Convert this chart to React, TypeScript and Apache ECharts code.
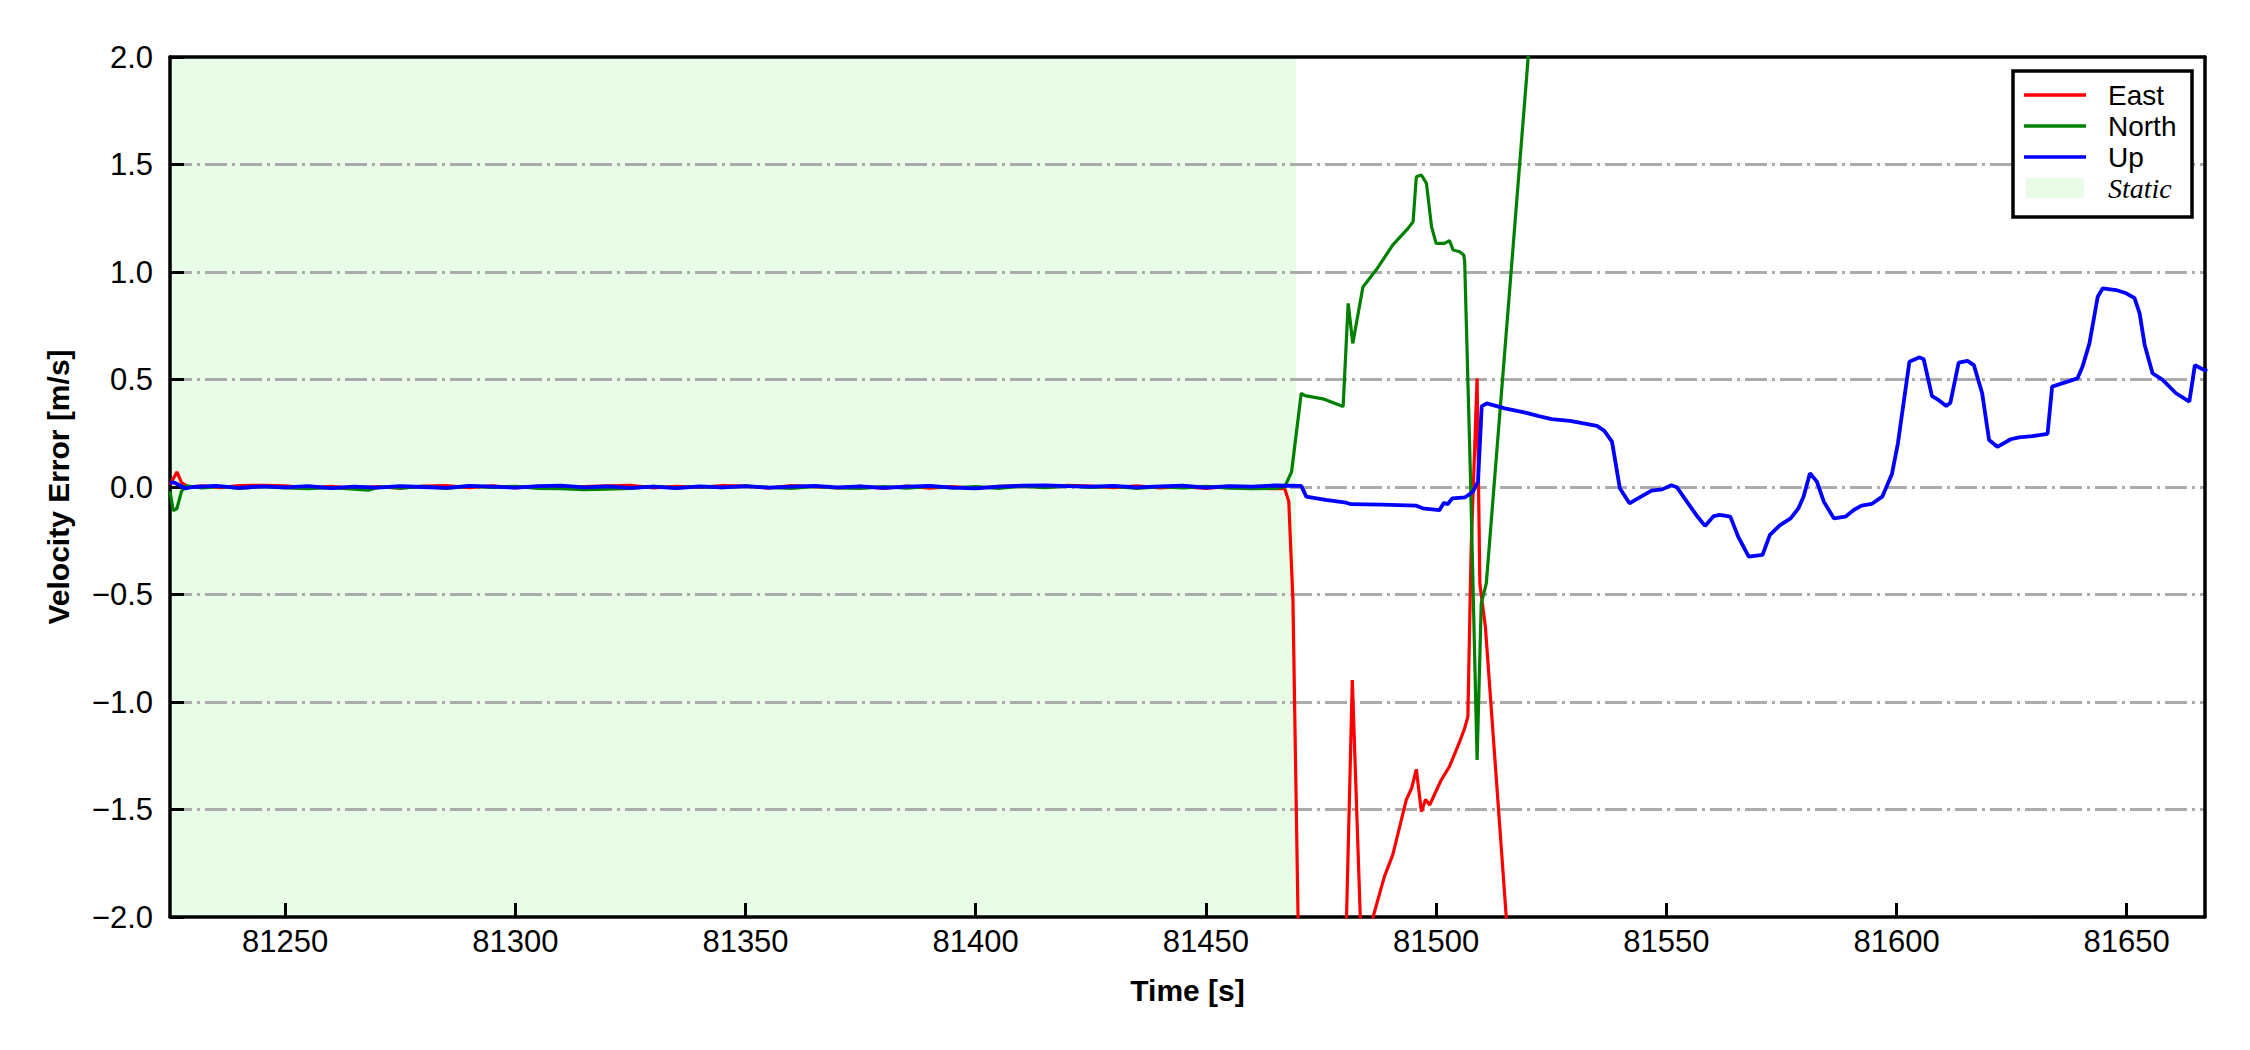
import React, { useEffect, useRef } from "react";
import * as echarts from "echarts";

// ---------- axis / layout constants ----------
const X_MIN = 81225;
const X_MAX = 81667;
const X_TICKS = [81250, 81300, 81350, 81400, 81450, 81500, 81550, 81600, 81650];
const Y_MIN = -2;
const Y_MAX = 2;
const Y_STEP = 0.5;
const STATIC_START = 81225;
const STATIC_END = 81469.6;
const STATIC_COLOR = "#e8fce8";

const SERIES_NAMES = ["East", "North", "Up"];
const SERIES_COLORS = ["#ff0000", "#008000", "#0000ff"];
const STATIC_NAME = "Static";

// ---------- data: [time (s), velocity error (m/s)] ----------
const EAST: [number, number][] = [
  [81225, 0.01], [81226.5, 0.07], [81227.5, 0.02], [81229, 0.0], [81232, 0.005], [81236, -0.003],
  [81240, 0.006], [81245, 0.008], [81250, 0.005], [81255, -0.004], [81260, 0.003], [81265, -0.006],
  [81270, 0.002], [81275, -0.005], [81280, 0.004], [81285, 0.006], [81290, -0.003], [81295, 0.005],
  [81300, -0.004], [81305, 0.003], [81310, -0.006], [81315, 0.002], [81320, 0.005], [81325, 0.008],
  [81330, -0.004], [81335, 0.003], [81340, -0.002], [81345, 0.006], [81350, 0.004], [81355, -0.005],
  [81360, 0.007], [81365, 0.002], [81370, -0.004], [81375, 0.003], [81380, -0.006], [81385, 0.004],
  [81390, -0.005], [81395, 0.002], [81400, -0.006], [81405, 0.003], [81410, 0.006], [81415, -0.002],
  [81420, 0.008], [81425, 0.004], [81430, -0.003], [81435, 0.005], [81440, -0.004], [81445, 0.002],
  [81450, -0.006], [81455, 0.003], [81460, -0.004], [81465, -0.008], [81467.1, -0.006],
  [81468.0, -0.068], [81468.9, -0.526], [81470.0, -1.99], [81470.5, -2.3], [81480.2, -2.3],
  [81481.8, -0.898], [81484.0, -2.3], [81485.5, -2.3], [81486.3, -2.0], [81488.8, -1.81],
  [81490.6, -1.71], [81493.5, -1.456], [81494.7, -1.4], [81495.7, -1.313], [81496.8, -1.51],
  [81497.7, -1.453], [81498.6, -1.479], [81501.1, -1.363], [81502.9, -1.3], [81505.1, -1.185],
  [81506.2, -1.122], [81506.9, -1.068], [81507.6, -0.293], [81508.9, 0.505], [81509.5, -0.45],
  [81510.7, -0.65], [81515.2, -1.99], [81516, -2.3],
];

const NORTH: [number, number][] = [
  [81225, -0.02], [81225.7, -0.11], [81226.5, -0.1], [81227.5, -0.02], [81228.5, 0.005], [81232, -0.004],
  [81236, 0.003], [81240, -0.006], [81245, 0.002], [81250, -0.004], [81255, -0.008], [81260, -0.003],
  [81265, -0.01], [81268, -0.015], [81271, 0.002], [81275, -0.005], [81280, 0.003], [81285, -0.006],
  [81290, 0.004], [81295, -0.002], [81300, 0.003], [81305, -0.006], [81310, -0.008], [81315, -0.012],
  [81320, -0.01], [81325, -0.006], [81330, 0.003], [81335, -0.004], [81340, 0.002], [81345, -0.003],
  [81350, 0.004], [81355, -0.002], [81360, -0.006], [81365, 0.003], [81370, -0.004], [81375, -0.007],
  [81380, 0.002], [81385, -0.005], [81390, 0.003], [81395, -0.004], [81400, 0.002], [81405, -0.006],
  [81410, 0.004], [81415, -0.003], [81420, 0.005], [81425, -0.002], [81430, 0.003], [81435, -0.006],
  [81440, 0.002], [81445, -0.004], [81450, 0.003], [81455, -0.005], [81460, -0.008], [81465, -0.006],
  [81467.1, 0.0], [81468.6, 0.07], [81470.7, 0.436], [81471.5, 0.425], [81475.4, 0.41],
  [81479.8, 0.374], [81480.9, 0.854], [81481.9, 0.668], [81484.1, 0.93], [81487.0, 1.01],
  [81490.6, 1.126], [81493.9, 1.203], [81495.0, 1.234], [81495.7, 1.443], [81496.8, 1.451],
  [81497.9, 1.412], [81499.0, 1.211], [81500.0, 1.133], [81501.8, 1.133], [81502.9, 1.146],
  [81503.7, 1.102], [81505.1, 1.094], [81506.0, 1.079], [81506.2, 1.05], [81507.4, 0.1],
  [81508.9, -1.27], [81509.8, -0.541], [81510.9, -0.448], [81520.0, 2.0], [81522, 2.55],
];

const UP: [number, number][] = [
  [81225, 0.02], [81226, 0.02], [81228.3, -0.006], [81230, 0.0], [81235, 0.005], [81240, -0.004],
  [81245, 0.003], [81250, -0.002], [81255, 0.004], [81260, -0.005], [81265, 0.002], [81270, -0.003],
  [81275, 0.004], [81280, 0.0], [81285, -0.004], [81290, 0.005], [81295, 0.002], [81300, -0.003],
  [81305, 0.004], [81310, 0.006], [81315, -0.002], [81320, 0.003], [81325, -0.004], [81330, 0.002],
  [81335, -0.005], [81340, 0.003], [81345, -0.002], [81350, 0.004], [81355, -0.003], [81360, 0.002],
  [81365, 0.005], [81370, -0.002], [81375, 0.003], [81380, -0.004], [81385, 0.002], [81390, 0.005],
  [81395, -0.003], [81400, -0.006], [81405, 0.002], [81410, 0.006], [81415, 0.008], [81420, 0.004],
  [81425, 0.002], [81430, 0.005], [81435, -0.002], [81440, 0.003], [81445, 0.006], [81450, -0.003],
  [81455, 0.004], [81460, 0.002], [81465, 0.007], [81470.7, 0.005], [81471.8, -0.045],
  [81476, -0.06], [81480.5, -0.073], [81481.5, -0.08], [81488, -0.082], [81495.7, -0.087],
  [81497.1, -0.099], [81500.7, -0.108], [81501.7, -0.073], [81502.5, -0.08], [81503.5, -0.053],
  [81506.3, -0.048], [81508.0, -0.022], [81509.1, 0.025], [81509.9, 0.375], [81511.0, 0.389],
  [81514.9, 0.366], [81519.4, 0.346], [81522.3, 0.33], [81525.1, 0.316], [81529.1, 0.308],
  [81532.0, 0.296], [81534.9, 0.284], [81536.5, 0.262], [81538.2, 0.211], [81539.9, -0.006],
  [81542.0, -0.076], [81544.5, -0.045], [81546.8, -0.017], [81549.1, -0.011], [81551.1, 0.008],
  [81552.3, -0.001], [81554.2, -0.06], [81556.5, -0.13], [81558.4, -0.181], [81560.3, -0.135],
  [81561.6, -0.13], [81563.9, -0.138], [81565.6, -0.231], [81567.9, -0.324], [81570.9, -0.316],
  [81572.5, -0.223], [81574.7, -0.177], [81577.0, -0.146], [81578.7, -0.099], [81579.8, -0.045],
  [81581.2, 0.064], [81582.7, 0.025], [81584.2, -0.068], [81586.4, -0.146], [81588.9, -0.138],
  [81590.7, -0.107], [81592.4, -0.087], [81594.6, -0.079], [81596.9, -0.045], [81599.0, 0.06],
  [81600.3, 0.203], [81602.8, 0.583], [81605.0, 0.603], [81605.9, 0.594], [81607.7, 0.423],
  [81608.9, 0.408], [81610.8, 0.377], [81611.7, 0.392], [81613.5, 0.578], [81615.4, 0.587],
  [81616.8, 0.567], [81618.6, 0.436], [81620.1, 0.219], [81621.9, 0.187], [81624.8, 0.222],
  [81626.6, 0.231], [81629.5, 0.237], [81632.8, 0.247], [81633.8, 0.467], [81639.3, 0.505],
  [81640.4, 0.56], [81641.9, 0.668], [81643.7, 0.885], [81644.8, 0.924], [81647.7, 0.916],
  [81649.9, 0.901], [81651.7, 0.878], [81652.8, 0.808], [81653.9, 0.66], [81655.6, 0.529],
  [81657.8, 0.498], [81660.7, 0.436], [81663.6, 0.397], [81664.8, 0.567], [81666.8, 0.544],
  [81667.5, 0.54],
];

const SERIES_DATA = [EAST, NORTH, UP];
const SERIES_WIDTHS = [3.2, 3.2, 3.8];

const FONT = "'Liberation Sans', Arial, Helvetica, sans-serif";
const SERIF = "'Liberation Serif', 'Times New Roman', serif";

const fmtY = (v: number) => (v < 0 ? "\u2212" : "") + Math.abs(v).toFixed(1);

export default function App() {
  const ref = useRef<HTMLDivElement>(null);

  useEffect(() => {
    if (!ref.current) return;
    const chart = echarts.init(ref.current, null, { renderer: "svg" });
    const frameLine = { color: "#000", width: 3.5 };

    // legend box (drawn with graphic elements)
    const LX = 2013, LY = 71, LW = 179, LH = 146;
    const rowY = [95, 126, 157, 188];
    const legendEls: any[] = [
      {
        type: "rect",
        z: 100,
        shape: { x: LX, y: LY, width: LW, height: LH },
        style: { fill: "#ffffff", stroke: "#000", lineWidth: 3.5 },
      },
    ];
    SERIES_NAMES.forEach((name, i) => {
      legendEls.push({
        type: "line",
        z: 101,
        shape: { x1: 2024, y1: rowY[i], x2: 2086, y2: rowY[i] },
        style: { stroke: SERIES_COLORS[i], lineWidth: 3.5 },
      });
      legendEls.push({
        type: "text",
        z: 101,
        x: 2108,
        y: rowY[i],
        style: {
          text: name,
          fill: "#000",
          fontSize: 28,
          fontFamily: FONT,
          verticalAlign: "middle",
          align: "left",
        },
      });
    });
    legendEls.push({
      type: "rect",
      z: 101,
      shape: { x: 2026, y: rowY[3] - 10, width: 58, height: 20 },
      style: { fill: STATIC_COLOR },
    });
    legendEls.push({
      type: "text",
      z: 101,
      x: 2108,
      y: rowY[3],
      style: {
        text: STATIC_NAME,
        fill: "#000",
        fontSize: 28,
        fontFamily: SERIF,
        fontStyle: "italic",
        verticalAlign: "middle",
        align: "left",
      },
    });

    const lineSeries = SERIES_NAMES.map((name, i) => ({
      name,
      type: "line",
      data: SERIES_DATA[i],
      symbol: "none",
      showSymbol: false,
      z: 2,
      clip: true,
      itemStyle: { color: SERIES_COLORS[i] },
      lineStyle: { color: SERIES_COLORS[i], width: SERIES_WIDTHS[i] },
    }));

    chart.setOption({
      animation: false,
      backgroundColor: "#ffffff",
      textStyle: { fontFamily: FONT, color: "#000" },
      grid: { left: 170, right: 45, top: 57, bottom: 133, outerBoundsMode: "none" },
      legend: { show: false },
      graphic: legendEls,
      xAxis: [
        {
          type: "value",
          min: X_MIN,
          max: X_MAX,
          position: "bottom",
          z: 1.5,
          name: "Time [s]",
          nameLocation: "middle",
          nameGap: 58,
          nameTextStyle: { fontFamily: FONT, fontSize: 30, fontWeight: "bold", color: "#000" },
          axisLine: { show: true, onZero: false, lineStyle: frameLine },
          axisTick: {
            show: true,
            inside: true,
            length: 14,
            customValues: X_TICKS,
            lineStyle: { color: "#000", width: 3 },
          },
          axisLabel: {
            show: true,
            customValues: X_TICKS,
            margin: 9,
            fontSize: 31,
            fontFamily: FONT,
            color: "#000",
            formatter: (v: number) => String(v),
          },
          splitLine: { show: false },
        },
        {
          type: "value",
          min: X_MIN,
          max: X_MAX,
          position: "top",
          z: 1.5,
          axisLine: { show: true, onZero: false, lineStyle: frameLine },
          axisTick: { show: false },
          axisLabel: { show: false },
          splitLine: { show: false },
        },
      ],
      yAxis: [
        {
          type: "value",
          min: Y_MIN,
          max: Y_MAX,
          interval: Y_STEP,
          position: "left",
          z: 1.5,
          name: "Velocity Error [m/s]",
          nameLocation: "middle",
          nameGap: 97,
          nameTextStyle: { fontFamily: FONT, fontSize: 30, fontWeight: "bold", color: "#000" },
          axisLine: { show: true, onZero: false, lineStyle: frameLine },
          axisTick: { show: true, inside: true, length: 14, lineStyle: { color: "#000", width: 3 } },
          axisLabel: { show: true, margin: 17, fontSize: 31, fontFamily: FONT, color: "#000", formatter: fmtY },
          splitLine: {
            show: true,
            showMinLine: false,
            showMaxLine: false,
            lineStyle: { color: "#ababab", width: 3, type: [22, 5, 3, 5] },
          },
        },
        {
          type: "value",
          min: Y_MIN,
          max: Y_MAX,
          interval: Y_STEP,
          position: "right",
          z: 1.5,
          axisLine: { show: true, onZero: false, lineStyle: frameLine },
          axisTick: { show: false },
          axisLabel: { show: false },
          splitLine: { show: false },
        },
      ],
      series: [
        {
          name: STATIC_NAME,
          type: "line",
          data: [],
          z: 0,
          symbol: "none",
          itemStyle: { color: STATIC_COLOR },
          lineStyle: { color: STATIC_COLOR },
          markArea: {
            z: 0,
            silent: true,
            itemStyle: { color: STATIC_COLOR },
            data: [[{ xAxis: STATIC_START }, { xAxis: STATIC_END }]],
          },
        },
        ...lineSeries,
      ],
    });
    return () => chart.dispose();
  }, []);

  return (
    <div
      ref={ref}
      style={{ position: "fixed", left: 0, top: 0, width: 2250, height: 1050, background: "#fff" }}
    />
  );
}
